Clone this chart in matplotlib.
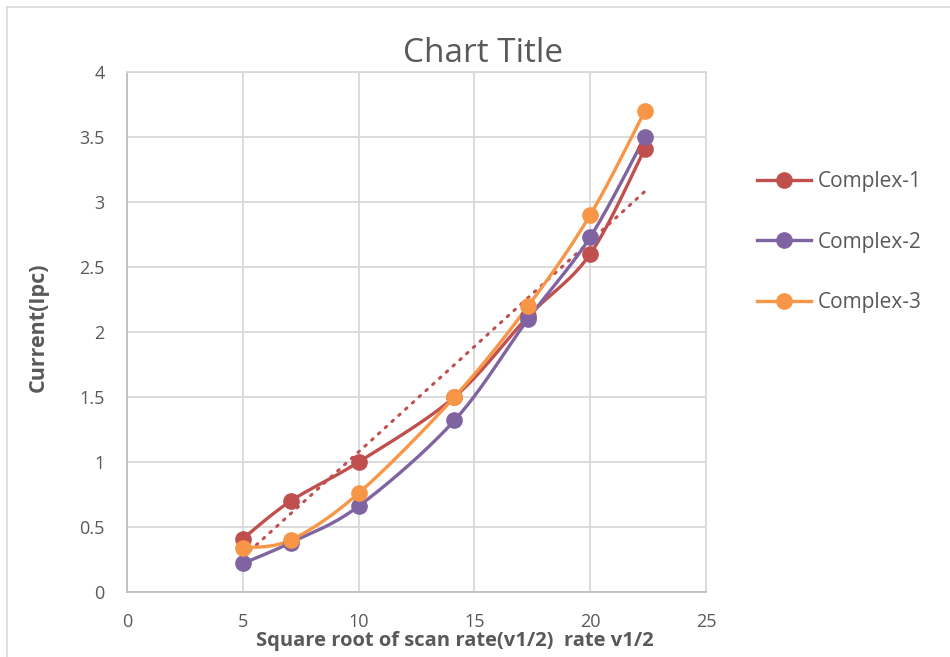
import numpy as np
import matplotlib.pyplot as plt
from matplotlib.lines import Line2D

plt.rcParams['font.family'] = ['Open Sans', 'DejaVu Sans']

# square root of the scan rate and peak currents
scan_root = [5.0, 7.07, 10.0, 14.14, 17.32, 20.0, 22.36]
complex_1 = [0.41, 0.70, 1.00, 1.50, 2.12, 2.60, 3.41]
complex_2 = [0.22, 0.38, 0.66, 1.32, 2.10, 2.73, 3.50]
complex_3 = [0.34, 0.40, 0.76, 1.50, 2.20, 2.90, 3.70]
names = ['Complex-1', 'Complex-2', 'Complex-3']
colors = ['#C0504D', '#8064A2', '#F79646']

x_ticks = [0, 5, 10, 15, 20, 25]
y_ticks = [0, 0.5, 1, 1.5, 2, 2.5, 3, 3.5, 4]
tick_text = ['0', '0.5', '1', '1.5', '2', '2.5', '3', '3.5', '4']


# smoothed line through the points (cubic Bezier, Catmull-Rom style handles)
def smooth(x, y, n=30):
    x = np.asarray(x, float)
    y = np.asarray(y, float)
    px = np.concatenate([[x[0]], x, [x[-1]]])
    py = np.concatenate([[y[0]], y, [y[-1]]])
    xs, ys = [], []
    t = np.linspace(0, 1, n)
    for i in range(1, len(px) - 2):
        p0 = np.array([px[i], py[i]])
        p3 = np.array([px[i + 1], py[i + 1]])
        p1 = p0 + (np.array([px[i + 1], py[i + 1]]) - np.array([px[i - 1], py[i - 1]])) / 6
        p2 = p3 - (np.array([px[i + 2], py[i + 2]]) - np.array([px[i], py[i]])) / 6
        b = ((1 - t) ** 3)[:, None] * p0 + (3 * (1 - t) ** 2 * t)[:, None] * p1 \
            + (3 * (1 - t) * t ** 2)[:, None] * p2 + (t ** 3)[:, None] * p3
        xs.append(b[:, 0])
        ys.append(b[:, 1])
    return np.concatenate(xs), np.concatenate(ys)


W, H = 950, 657
fig = plt.figure(figsize=(W / 100, H / 100), dpi=100)
ax = fig.add_axes([127 / W, 65 / H, 579 / W, 520 / H])

for ys, name, c in zip([complex_1, complex_2, complex_3], names, colors):
    sx, sy = smooth(scan_root, ys)
    ax.plot(sx, sy, color=c, lw=2.4, solid_capstyle='round', zorder=3)
    ax.plot(scan_root, ys, 'o', color=c, ms=11, zorder=4)

# linear trend of Complex-1
k, b = np.polyfit(scan_root, complex_1, 1)
tx = np.array([scan_root[0], scan_root[-1]])
ax.plot(tx, k * tx + b, color=colors[0], lw=2.2, ls=(0, (0.6, 2.4)),
        dash_capstyle='round', zorder=2)

ax.set_xlim(0, 25)
ax.set_ylim(0, 4)
ax.set_xticks(x_ticks)
ax.set_yticks(y_ticks)
ax.set_yticklabels(tick_text)
ax.grid(True, color='#D9D9D9', lw=1.3)
ax.set_axisbelow(True)
for s in ax.spines.values():
    s.set_color('#D9D9D9')
    s.set_linewidth(1.3)
ax.spines['left'].set_color('#BFBFBF')
ax.spines['bottom'].set_color('#BFBFBF')
ax.tick_params(length=0, labelsize=13, labelcolor='#595959')
ax.tick_params(axis='x', pad=15)
ax.tick_params(axis='y', pad=16)

fig.text(483 / W, 1 - 54 / H, 'Chart Title', fontsize=24, color='#595959',
         ha='center', va='center')
fig.text(455 / W, 1 - 641 / H, 'Square root of scan rate(v1/2)  rate v1/2',
         fontsize=14.5, fontweight='bold', color='#595959', ha='center', va='center')
fig.text(38 / W, 1 - 327 / H, 'Current(Ipc)', fontsize=15.5, fontweight='bold',
         color='#595959', ha='center', va='center', rotation=90)

handles = [Line2D([], [], color=c, lw=2.4, marker='o', ms=11) for c in colors]
fig.legend(handles, names, loc='upper left', bbox_to_anchor=(757 / W, 1 - 171 / H),
           frameon=False, fontsize=15, labelcolor='#595959', handlelength=2.6,
           handletextpad=0.3, labelspacing=1.9, borderpad=0, borderaxespad=0)

# chart area border
fig.add_artist(Line2D([7 / W, 7 / W], [0, 1 - 7 / H], color='#D9D9D9', lw=1.2))
fig.add_artist(Line2D([7 / W, 1], [1 - 7 / H, 1 - 7 / H], color='#D9D9D9', lw=1.2))

fig.savefig('out.png', dpi=100)
